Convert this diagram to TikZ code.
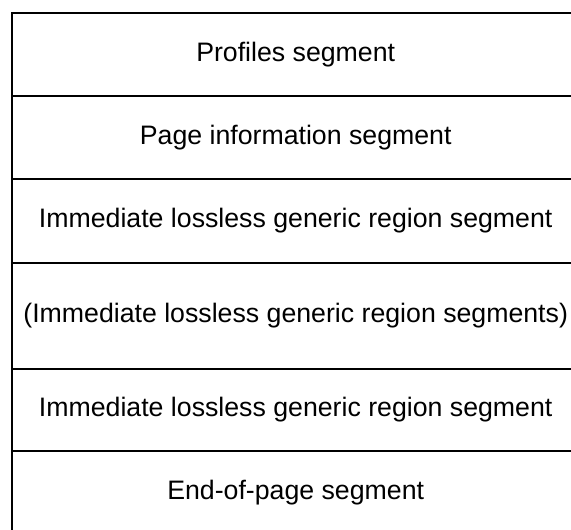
\documentclass[tikz,border=0pt]{standalone}
\usepackage{fontspec}
\setmainfont{Liberation Sans}
\begin{document}
\begin{tikzpicture}[x=1pt,y=1pt,
  segbox/.style={draw=black, line width=2.4pt, rectangle, inner sep=0pt, outer sep=0pt,
    minimum width=568pt, anchor=north west, font=\fontsize{26.7}{30}\selectfont}]
\useasboundingbox (0,0) rectangle (571,-530);
\clip (0,0) rectangle (571,-530);
\node[segbox, minimum height=83pt] (s1) at (11.7,-13) {Profiles segment};
\node[segbox, minimum height=83pt] (s2) at (11.7,-96) {Page information segment};
\node[segbox, minimum height=84pt] (s3) at (11.7,-179) {Immediate lossless generic region segment};
\node[segbox, minimum height=106pt] (s4) at (11.7,-263) {(Immediate lossless generic region segments)};
\node[segbox, minimum height=82pt] (s5) at (11.7,-369) {Immediate lossless generic region segment};
\node[segbox, minimum height=83pt] (s6) at (11.7,-451) {End-of-page segment};
\end{tikzpicture}
\end{document}
